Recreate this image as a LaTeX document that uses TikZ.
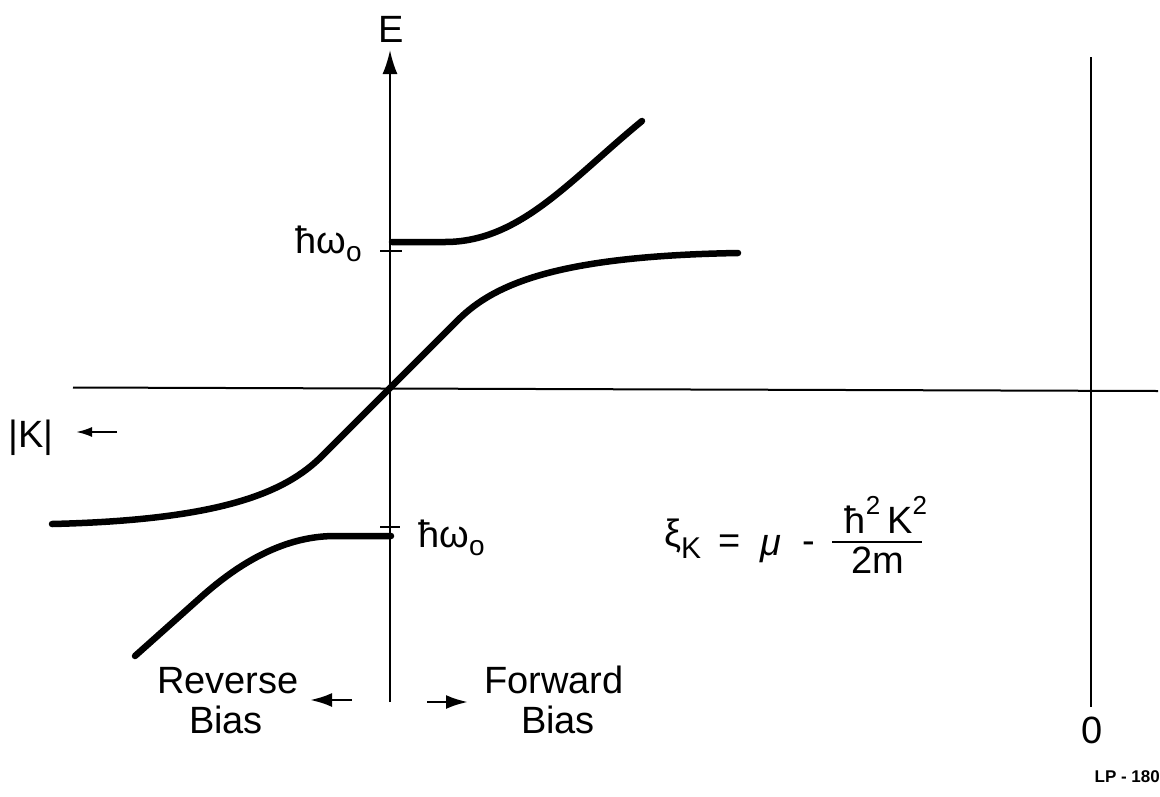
\documentclass[tikz,border=0pt]{standalone}
\usepackage{fontspec}
\setmainfont{Liberation Sans}
\usetikzlibrary{arrows.meta}
\newcommand{\subo}{\raisebox{-0.22em}{\fontsize{28}{30}\selectfont o}}
\newcommand{\suptwo}{\raisebox{0.48em}{\fontsize{26}{28}\selectfont 2}}
\begin{document}
\begin{tikzpicture}[x=1pt,y=-1pt,
  axis/.style={line width=2pt},
  band/.style={line width=6.5pt,line cap=round},
  tick/.style={line width=2pt},
  lbl/.style={inner sep=0pt,font=\fontsize{38}{40}\selectfont},
  small/.style={inner sep=0pt,font=\fontsize{17}{19}\selectfont\bfseries},
  bigtip/.style={-{Latex[length=24pt,width=15pt]}},
  midtip/.style={-{Latex[length=22pt,width=14pt]}},
  smalltip/.style={-{Latex[length=16pt,width=10pt]}}]
\useasboundingbox (0,0) rectangle (1160,796);
% axes
\coordinate (Ebot) at (390,702);
\coordinate (Etop) at (390,50);
\coordinate (Kl) at (73,387.5);
\coordinate (Kr) at (1158,391);
\coordinate (Rt) at (1091,57);
\coordinate (Rb) at (1091,707);
\draw[axis,bigtip] (Ebot) -- (Etop);
\draw[axis] (Kl) -- (Kr);
\draw[line width=2.5pt] (Rt) -- (Rb);
% ticks
\coordinate (t1a) at (380,251); \coordinate (t1b) at (402,251);
\coordinate (t2a) at (380,527); \coordinate (t2b) at (400,527);
\draw[tick] (t1a) -- (t1b);
\draw[tick] (t2a) -- (t2b);
% branches
\coordinate (u0) at (392,242); \coordinate (u1) at (445,242); \coordinate (u2) at (642,121);
\draw[band] (u0) -- (u1) .. controls (520,242) and (570,180) .. (u2);
\coordinate (m0) at (52,524); \coordinate (m1) at (322,456); \coordinate (m2) at (458,320); \coordinate (m3) at (738,253);
\draw[band] (m0) .. controls (220,520) and (285,493) .. (m1) -- (m2) .. controls (495,283) and (560,256) .. (m3);
\coordinate (l0) at (391,536); \coordinate (l1) at (335,536); \coordinate (l2) at (200,598); \coordinate (l3) at (135,656);
\draw[band] (l0) -- (l1) .. controls (285,536) and (240,562) .. (l2) -- (l3);
% labels
\node[lbl,anchor=base] (E) at (391,42) {E};
\node[lbl,anchor=base west] (hw1) at (295,253) {ħω\subo};
\node[lbl,anchor=base west] (hw2) at (418,547) {ħω\subo};
\node[lbl,anchor=base west] (K) at (8,447) {|K|};
\coordinate (ka) at (117,432); \coordinate (kb) at (76,432);
\draw[line width=2.2pt,smalltip] (ka) -- (kb);
\node[lbl,anchor=base] (rev) at (228,693) {Reverse};
\node[lbl,anchor=base] (rbias) at (226,733) {Bias};
\node[lbl,anchor=base] (fwd) at (554,693) {Forward};
\node[lbl,anchor=base] (fbias) at (558,733) {Bias};
\coordinate (ra) at (352,700); \coordinate (rb) at (310,700);
\draw[line width=2.8pt,midtip] (ra) -- (rb);
\coordinate (fa) at (427,702); \coordinate (fb) at (468,702);
\draw[line width=2.8pt,midtip] (fa) -- (fb);
\node[lbl,anchor=base] (zero) at (1092,743) {0};
\node[small,anchor=base east] (lp) at (1160,782) {LP - 180};
% formula
\node[lbl,anchor=base west] (xi) at (664,546) {ξ\raisebox{-0.32em}{\fontsize{30}{32}\selectfont K}};
\node[lbl,anchor=base] (eq) at (730,553) {=};
\node[lbl,anchor=base] (mu) at (771,555) {\itshape μ};
\node[lbl,anchor=base] (minus) at (809,553) {-};
\node[lbl,anchor=base] (num) at (886,533) {ħ\suptwo\hspace{7pt}K\suptwo};
\coordinate (fr1) at (832,542); \coordinate (fr2) at (922,542);
\draw[line width=2.2pt] (fr1) -- (fr2);
\node[lbl,anchor=base] (den) at (878,573) {2m};
\end{tikzpicture}
\end{document}
